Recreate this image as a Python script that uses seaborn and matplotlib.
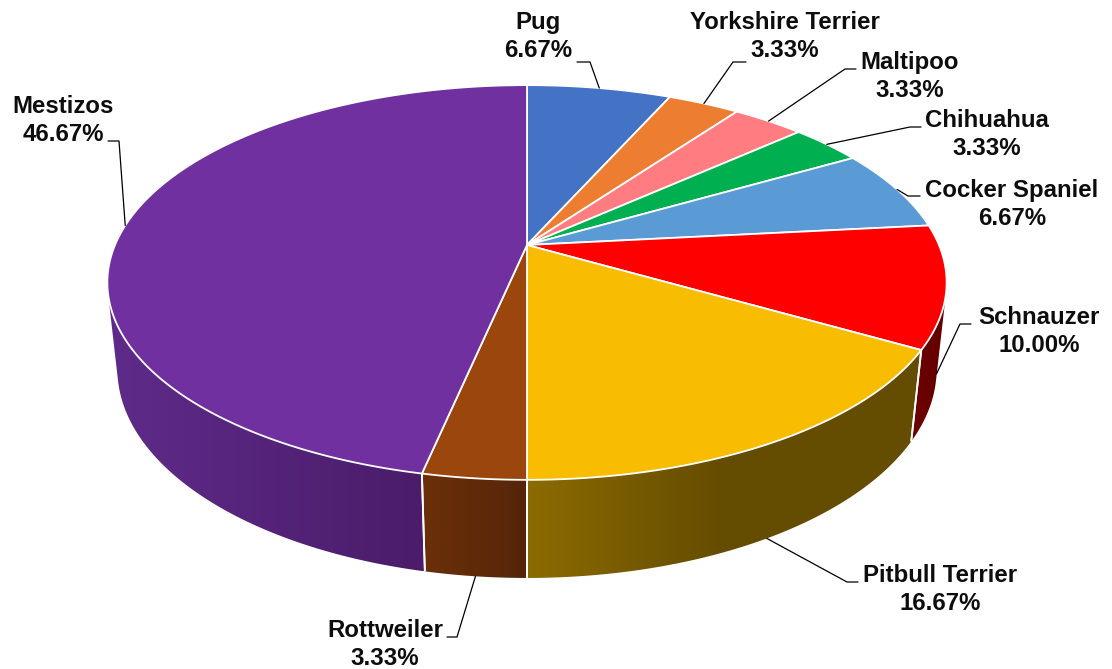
import numpy as np
import matplotlib
matplotlib.use("Agg")
import matplotlib.pyplot as plt
from matplotlib.patches import Polygon
from matplotlib.colors import to_rgb
import seaborn as sns

# ---- data -------------------------------------------------------------
breeds = ["Pug", "Yorkshire Terrier", "Maltipoo", "Chihuahua", "Cocker Spaniel",
          "Schnauzer", "Pitbull Terrier", "Rottweiler", "Mestizos"]
shares = [6.67, 3.33, 3.33, 3.33, 6.67, 10.00, 16.67, 3.33, 46.67]

# ---- styling ----------------------------------------------------------
top_colors = ["#4472C4", "#ED7D31", "#FF7C80", "#00B050", "#5B9BD5",
              "#FF0000", "#F8BD00", "#9A460D", "#7030A0"]
# side wall gradient: (light, dark, ramp fraction)
side_shades = [
    ("#2F5190", "#25406F", 1.0),
    ("#A5561F", "#85451A", 1.0),
    ("#B35557", "#8F4446", 1.0),
    ("#007A38", "#005F2B", 1.0),
    ("#3F6D96", "#325778", 1.0),
    ("#6E0000", "#620000", 1.0),
    ("#8C6B00", "#644C00", 0.5),
    ("#6B3009", "#55250A", 1.0),
    ("#5F2B8A", "#4A1C69", 1.0),
]

# label layout: (center x, first baseline, elbow point, leader end)
label_layout = [
    (538, 29, (590, 62), (577, 62)),
    (785, 29, (733, 62), (746, 62)),
    (910, 69, (845, 69), (856, 69)),
    (987, 127, (910, 127), (921, 127)),
    (1012, 197, (908, 196), (920, 196)),
    (1039, 324, (960, 324), (971, 324)),
    (940, 582, (847, 582), (858, 582)),
    (385, 637, (457, 637), (447, 637)),
    (63, 113, (119, 141), (108, 141)),
]

# ---- perspective camera for the 3-D disc -----------------------------
FOCAL, DIST, PITCH, THICK = 1924.0, 4.67, np.radians(27.5), 0.239
CX, CY = 527.0, 245.0


def project(theta, z):
    X, Y = np.cos(theta), np.sin(theta)
    den = DIST + Y * np.cos(PITCH) - z * np.sin(PITCH)
    sx = FOCAL * X / den
    sy = FOCAL * (Y * np.sin(PITCH) + z * np.cos(PITCH)) / den
    return CX + sx, CY - sy


sns.set_style("white")
plt.rcParams["font.family"] = ["Liberation Sans", "DejaVu Sans"]
palette = sns.color_palette(top_colors)

fig = plt.figure(figsize=(11.12, 6.69), dpi=100)
ax = fig.add_axes([0, 0, 1, 1])

total = float(np.sum(shares))
cum = np.concatenate([[0.0], np.cumsum(shares)])
starts = np.radians(90.0 - cum[:-1] / total * 360.0)
ends = np.radians(90.0 - cum[1:] / total * 360.0)

# angular range of the wall that faces the camera
s0 = 1.0 / (DIST * np.cos(PITCH))
vis_lo = -np.pi + np.arcsin(s0)
vis_hi = -np.arcsin(s0)

# ---- side walls -------------------------------------------------------
boundary_lines = []
for i, (a0, a1) in enumerate(zip(starts, ends)):
    lo, hi = max(a1, vis_lo), min(a0, vis_hi)
    if lo >= hi:
        continue
    th = np.linspace(lo, hi, 200)
    tx, ty = project(th, 0.0)
    bx, by = project(th[::-1], -THICK)
    pts = np.column_stack([np.concatenate([tx, bx]), np.concatenate([ty, by])])
    poly = Polygon(pts, closed=True, facecolor="none", edgecolor="none")
    ax.add_patch(poly)
    light, dark, ramp = side_shades[i]
    xmin, xmax = pts[:, 0].min(), pts[:, 0].max()
    ymin, ymax = pts[:, 1].min(), pts[:, 1].max()
    n = 256
    t = np.clip(np.linspace(0, 1, n) / ramp, 0, 1)[:, None]
    grad = (1 - t) * np.array(to_rgb(light)) + t * np.array(to_rgb(dark))
    im = ax.imshow(grad[None, :, :], extent=[xmin, xmax, ymax, ymin],
                   aspect="auto", interpolation="bilinear", zorder=1)
    im.set_clip_path(poly)
    for a in (a0, a1):
        if vis_lo < a < vis_hi:
            boundary_lines.append(a)

for a in boundary_lines:
    x0, y0 = project(a, 0.0)
    x1, y1 = project(a, -THICK)
    ax.plot([x0, x1], [y0, y1], color="white", lw=1.3, zorder=2,
            solid_capstyle="butt")

# ---- top face ---------------------------------------------------------
for i, (a0, a1) in enumerate(zip(starts, ends)):
    th = np.linspace(a0, a1, max(int(abs(a0 - a1) * 120), 8))
    ax_, ay_ = project(th, 0.0)
    pts = np.column_stack([np.concatenate([[CX], ax_]), np.concatenate([[CY], ay_])])
    ax.add_patch(Polygon(pts, closed=True, facecolor=palette[i], edgecolor="white",
                         lw=1.3, joinstyle="round", zorder=3))

# ---- labels and leader lines -----------------------------------------
for i, (name, val) in enumerate(zip(breeds, shares)):
    mid = 0.5 * (starts[i] + ends[i])
    z = -THICK if np.sin(mid) < 0 else 0.0
    sx, sy = project(mid, z)
    cx, base, elbow, end = label_layout[i]
    ax.plot([sx, elbow[0], end[0]], [sy, elbow[1], end[1]], color="black",
            lw=0.9, zorder=4, solid_joinstyle="miter")
    ax.text(cx, base, name, ha="center", va="baseline", fontsize=17.3,
            fontweight="bold", color="#0D0D0D", zorder=5)
    ax.text(cx, base + 28, f"{val:.2f}%", ha="center", va="baseline",
            fontsize=17.3, fontweight="bold", color="#0D0D0D", zorder=5)

ax.set_xlim(0, 1112)
ax.set_ylim(669, 0)
ax.axis("off")
fig.savefig("out.png", dpi=100, facecolor="white")
